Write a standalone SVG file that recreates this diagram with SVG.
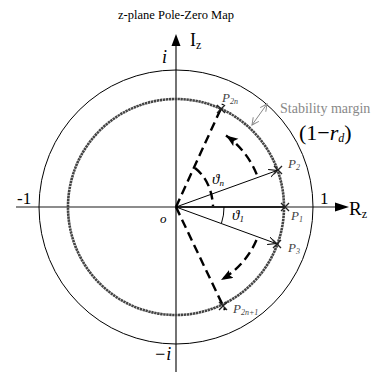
<svg xmlns="http://www.w3.org/2000/svg" width="375" height="372" viewBox="0 0 375 372" font-family="'Liberation Serif', 'DejaVu Serif', serif">
<defs>
<style>
text{font-family:'Liberation Serif','DejaVu Serif',serif;}
.pl{fill:#444;font-style:italic;font-size:13px;}
.sub{font-size:8px;}
.cross{stroke:#222;stroke-width:1.3;fill:none;}
.dash{stroke:#000;stroke-width:2.4;fill:none;stroke-dasharray:9 5;}
</style>
<marker id="openArr" markerWidth="10" markerHeight="10" refX="8" refY="4" orient="auto" markerUnits="userSpaceOnUse">
<path d="M0,0 L8,4 L0,8" fill="none" stroke="#000" stroke-width="1"/>
</marker>
<marker id="grayArr" markerWidth="10" markerHeight="10" refX="7" refY="4" orient="auto-start-reverse" markerUnits="userSpaceOnUse">
<path d="M0,0.5 L7,4 L0,7.5" fill="none" stroke="#888" stroke-width="1"/>
</marker>
<marker id="fillArr" markerWidth="14" markerHeight="12" refX="12" refY="4.5" orient="auto" markerUnits="userSpaceOnUse">
<path d="M0,0 L12,4.5 L0,9 L2.5,4.5 Z" fill="#000"/>
</marker>
</defs>
<rect width="375" height="372" fill="#fff"/>
<text x="176" y="19" text-anchor="middle" font-size="12.5">z-plane  Pole-Zero Map</text>

<g id="axes">
<line x1="16" y1="207" x2="337" y2="207" stroke="#666" stroke-width="1.3"/>
<polygon points="349,207 335,202.5 335,211.5" fill="#000"/>
<line x1="176" y1="44" x2="176" y2="372" stroke="#000" stroke-width="1.1"/>
<polygon points="176,34 171.5,46 180.5,46" fill="#000"/>
<text x="190" y="46" font-size="18">I<tspan font-size="12" dy="3">z</tspan></text>
<text x="349" y="215" font-size="19">R<tspan font-size="12" dy="3">z</tspan></text>
<text x="162" y="63" font-size="18" font-style="italic">i</text>
<text x="154" y="360" font-size="18" font-style="italic">−i</text>
<text x="17" y="204" font-size="17">-1</text>
<text x="320" y="204" font-size="17">1</text>
<text x="160" y="223" font-size="13" font-style="italic">o</text>
</g>

<g id="circles">
<circle cx="176" cy="207" r="137" fill="none" stroke="#000" stroke-width="1"/>
<circle cx="176" cy="207" r="108" fill="none" stroke="#444" stroke-width="2.6" stroke-dasharray="2.4 0.6"/>
</g>

<g id="connectors">
<line x1="176" y1="207" x2="285" y2="207" stroke="#222" stroke-width="2"/>
<line x1="176" y1="207" x2="277" y2="170.5" stroke="#000" stroke-width="1" marker-end="url(#openArr)"/>
<line x1="176" y1="207" x2="276" y2="243.5" stroke="#000" stroke-width="1" marker-end="url(#openArr)"/>
<line class="dash" x1="176" y1="207" x2="223" y2="104"/>
<line class="dash" x1="176" y1="207" x2="225" y2="310"/>
<path class="dash" d="M256.7,174.4 A87,87 0 0 0 226,135.5" marker-end="url(#fillArr)"/>
<path class="dash" d="M256.5,240 A86,86 0 0 1 221,280" marker-end="url(#fillArr)"/>
<path class="dash" stroke-dasharray="8 5" d="M195,168 C205,176 212,188 213,206"/>
<path d="M224,207 A48,48 0 0 1 221.5,223" fill="none" stroke="#000" stroke-width="1"/>
<line x1="252" y1="125" x2="267" y2="104" stroke="#888" stroke-width="1" marker-start="url(#grayArr)" marker-end="url(#grayArr)"/>
</g>

<g id="P2n">
<path class="cross" d="M217,105 L225,113 M225,105 L217,113"/>
<text class="pl" x="222" y="102">P<tspan class="sub" dy="2">2n</tspan></text>
</g>
<g id="P2">
<path class="cross" d="M274,166 L282,174 M282,166 L274,174"/>
<text class="pl" x="288" y="168">P<tspan class="sub" dy="2">2</tspan></text>
</g>
<g id="P1">
<path class="cross" d="M281,203 L289,211 M289,203 L281,211"/>
<text class="pl" x="291" y="220">P<tspan class="sub" dy="2">1</tspan></text>
</g>
<g id="P3">
<path class="cross" d="M273,240 L281,248 M281,240 L273,248"/>
<text class="pl" x="288" y="252">P<tspan class="sub" dy="2">3</tspan></text>
</g>
<g id="P2n1">
<path class="cross" d="M219,302 L227,310 M227,302 L219,310"/>
<text class="pl" x="233" y="313">P<tspan class="sub" dy="2">2n+1</tspan></text>
</g>

<g id="angles">
<text x="212" y="184" font-size="15" font-style="italic">ϑ<tspan font-size="9" dy="2">n</tspan></text>
<text x="232" y="220" font-size="15" font-style="italic">ϑ<tspan font-size="9" dy="2">1</tspan></text>
</g>

<g id="margin">
<text x="280" y="113" font-size="14" fill="#888">Stability margin</text>
<text x="299" y="140" font-size="22">(1−<tspan font-style="italic">r</tspan><tspan font-size="12" font-style="italic" dy="2">d</tspan><tspan dy="-2">)</tspan></text>
</g>
</svg>
